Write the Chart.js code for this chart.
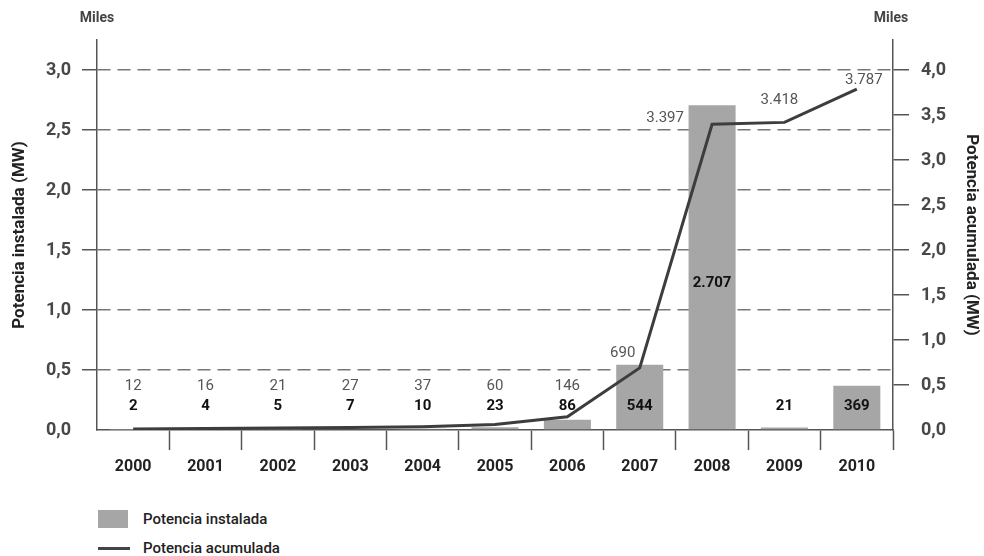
<!DOCTYPE html>
<html><head><meta charset="utf-8">
<script src="https://cdn.jsdelivr.net/npm/chart.js@4.4.0/dist/chart.umd.min.js"></script>
<style>
body{margin:0;background:#fff;width:984px;height:556px;overflow:hidden;font-family:Roboto,"DejaVu Sans",sans-serif;color:#222}
#wrap{position:relative;width:984px;height:490px}
.lg{position:absolute;left:98px;font-size:15px;font-weight:500;color:#222;display:flex;align-items:center;height:20px}
.lg .box{display:inline-flex;align-items:center;width:45px}
</style></head>
<body>
<div id="wrap"><canvas id="c" width="984" height="490"></canvas></div>
<div class="lg" style="top:509px"><span class="box"><span style="width:30px;height:18px;background:#a6a6a6"></span></span>Potencia instalada</div>
<div class="lg" style="top:538px"><span class="box"><span style="width:32px;height:3px;background:#444"></span></span>Potencia acumulada</div>
<script>
const years = ['2000','2001','2002','2003','2004','2005','2006','2007','2008','2009','2010'];
const instalada = [2, 4, 5, 7, 10, 23, 86, 544, 2707, 21, 369];
const acumulada = [12, 16, 21, 27, 37, 60, 146, 690, 3397, 3418, 3787];
const leftTicks = [0, 0.5, 1.0, 1.5, 2.0, 2.5, 3.0];
const rightTicks = [0, 0.5, 1.0, 1.5, 2.0, 2.5, 3.0, 3.5, 4.0];

const fmtNum = v => String(v).replace(/\B(?=(\d{3})+(?!\d))/g, '.');
const fmtTick = v => v.toFixed(1).replace('.', ',');
const FONT = 'Roboto, "DejaVu Sans", sans-serif';

const labelPlugin = {
  id: 'vlabels',
  afterDatasetsDraw(chart, args, opts) {
    const ctx = chart.ctx;
    const yL = chart.scales.y, yR = chart.scales.y1;
    const zero = yL.getPixelForValue(0);
    const barMeta = chart.getDatasetMeta(0), lineMeta = chart.getDatasetMeta(1);
    ctx.save();
    ctx.textAlign = 'center'; ctx.textBaseline = 'middle';
    ctx.font = 'bold 15px ' + FONT; ctx.fillStyle = '#111';
    instalada.forEach((v, i) => {
      const el = barMeta.data[i];
      let y = zero - 24;
      if (el.base - el.y > 200) y = (el.y + el.base) / 2 + 16;
      ctx.fillText(fmtNum(v), el.x, y);
    });
    ctx.font = '15px ' + FONT; ctx.fillStyle = '#555';
    acumulada.forEach((v, i) => {
      const p = lineMeta.data[i];
      const off = opts.offsets[i] || [0, 0];
      const y = Math.min(p.y - 15, zero - 44) + off[1];
      ctx.fillText(fmtNum(v), p.x + off[0], y);
    });
    ctx.font = 'bold 14px ' + FONT; ctx.fillStyle = '#444';
    ctx.fillText('Miles', yL.right, chart.chartArea.top - 22);
    ctx.fillText('Miles', yR.left - 2, chart.chartArea.top - 22);
    ctx.restore();
  }
};

new Chart(document.getElementById('c'), {
  data: {
    labels: years,
    datasets: [
      { type: 'bar', label: 'Potencia instalada', data: instalada.map(v => v / 1000), yAxisID: 'y',
        backgroundColor: '#a6a6a6', barPercentage: 0.65, categoryPercentage: 1.0, order: 2 },
      { type: 'line', label: 'Potencia acumulada', data: acumulada.map(v => v / 1000), yAxisID: 'y1',
        borderColor: '#3d3d3d', borderWidth: 3, pointRadius: 0, tension: 0, fill: false, order: 1 }
    ]
  },
  options: {
    responsive: false, animation: false, devicePixelRatio: 1,
    layout: { padding: { top: 40, left: 0, right: 0, bottom: 0 } },
    plugins: { legend: { display: false }, tooltip: { enabled: false },
      vlabels: { offsets: { 7: [-17, 0], 8: [-47, 9], 9: [-5, -7], 10: [7, 6] } } },
    scales: {
      x: {
        offset: true,
        grid: { offset: true, drawOnChartArea: false, tickLength: 20, tickWidth: 1.5,
          color: c => (c.index === 0 || c.index === years.length) ? 'rgba(0,0,0,0)' : '#555',
          tickColor: c => (c.index === 0 || c.index === years.length) ? 'rgba(0,0,0,0)' : '#555' },
        border: { display: true, color: '#555', width: 1.5 },
        ticks: { color: '#222', font: { family: FONT, size: 16, weight: 'bold' }, padding: 7 },
        afterFit: s => { s.height = 60; }
      },
      y: {
        position: 'left', min: 0, max: 3.25,
        afterBuildTicks: s => { s.ticks = leftTicks.map(v => ({ value: v })); },
        ticks: { callback: v => fmtTick(v), color: '#484848', padding: 11,
          font: { family: FONT, size: 18, weight: 'bold' } },
        grid: { color: c => c.tick && c.tick.value === 0 ? 'rgba(0,0,0,0)' : '#777', lineWidth: 1.5,
          tickLength: 15, tickColor: c => c.tick && c.tick.value === 0 ? 'rgba(0,0,0,0)' : '#555', tickBorderDash: [] },
        border: { display: true, color: '#555', width: 1.5, dash: [13, 7] },
        title: { display: true, text: 'Potencia instalada (MW)', color: '#222',
          font: { family: FONT, size: 17, weight: 'bold' }, padding: { top: 10, bottom: 0 } },
        afterFit: s => { s.width = 97; }
      },
      y1: {
        position: 'right', min: 0, max: 3.25 * 4 / 3,
        afterBuildTicks: s => { s.ticks = rightTicks.map(v => ({ value: v })); },
        ticks: { callback: v => fmtTick(v), color: '#484848', padding: 12,
          font: { family: FONT, size: 18, weight: 'bold' } },
        grid: { drawOnChartArea: false, tickLength: 16, lineWidth: 1.5,
          color: c => c.tick && c.tick.value === 0 ? 'rgba(0,0,0,0)' : '#555' },
        border: { display: true, color: '#555', width: 1.5 },
        title: { display: true, text: 'Potencia acumulada (MW)', color: '#222',
          font: { family: FONT, size: 17, weight: 'bold' }, padding: { top: 3, bottom: 0 } },
        afterFit: s => { s.width = 91; }
      }
    }
  },
  plugins: [labelPlugin]
});
</script>
</body></html>
